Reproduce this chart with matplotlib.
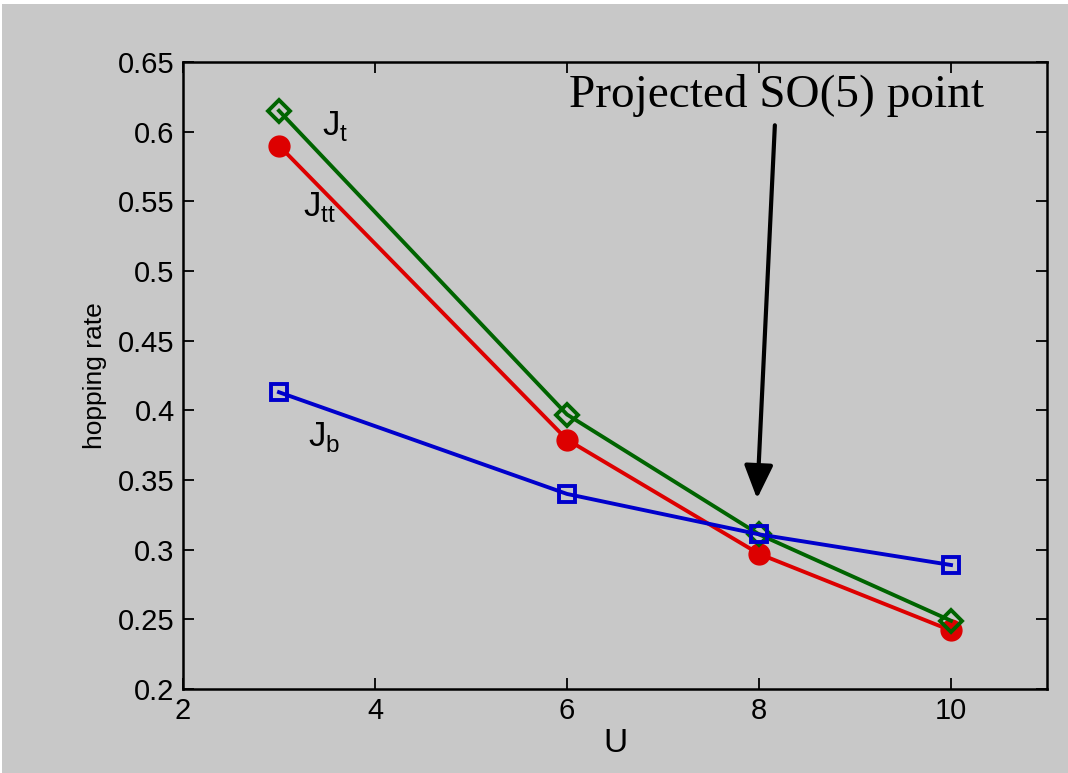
import matplotlib.pyplot as plt
from matplotlib.patches import Rectangle

# Data
U = [3, 6, 8, 10]
J_t = [0.615, 0.397, 0.311, 0.249]
J_tt = [0.590, 0.379, 0.297, 0.242]
J_b = [0.413, 0.340, 0.311, 0.289]

x_ticks = [2, 4, 6, 8, 10]
y_ticks = [0.2, 0.25, 0.3, 0.35, 0.4, 0.45, 0.5, 0.55, 0.6, 0.65]
y_ticklabels = ['0.2', '0.25', '0.3', '0.35', '0.4', '0.45', '0.5', '0.55', '0.6', '0.65']

gris = '#c8c8c8'
plt.rcParams['font.family'] = ['Liberation Sans', 'DejaVu Sans']

fig = plt.figure(figsize=(10.68, 7.73), dpi=100, facecolor=gris)
# pequeño borde blanco arriba y a la izquierda
fig.patches.append(Rectangle((0, 1 - 4 / 773), 1, 4 / 773, transform=fig.transFigure,
                             facecolor='white', edgecolor='none', zorder=-10))
fig.patches.append(Rectangle((0, 0), 2 / 1068, 1, transform=fig.transFigure,
                             facecolor='white', edgecolor='none', zorder=-10))

ax = fig.add_axes([183 / 1068, 1 - 689 / 773, (1047 - 183) / 1068, (689 - 62) / 773])
ax.set_facecolor(gris)

ax.plot(U, J_tt, '-o', color='#dd0000', lw=2.8, ms=15, mfc='#dd0000', mec='#dd0000', zorder=3)
ax.plot(U, J_t, '-D', color='#006400', lw=2.8, ms=11, mfc='none', mew=2.8, mec='#006400', zorder=4)
ax.plot(U, J_b, '-s', color='#0000cc', lw=2.8, ms=12, mfc='none', mew=2.8, mec='#0000cc', zorder=5)

ax.set_xlim(2, 11)
ax.set_ylim(0.2, 0.65)
ax.set_xticks(x_ticks)
ax.set_yticks(y_ticks)
ax.set_yticklabels(y_ticklabels)
ax.tick_params(direction='in', top=True, right=True, length=8, width=1.3, labelsize=21, pad=6)
for s in ax.spines.values():
    s.set_linewidth(1.8)

ax.set_xlabel('U', fontsize=24, labelpad=2)
ax.set_ylabel('hopping rate', fontsize=19, labelpad=8)

# Etiquetas de las curvas
ax.text(3.58, 0.604, r'J$_\mathregular{t}$', fontsize=25, ha='center', va='center')
ax.text(3.42, 0.546, r'J$_\mathregular{tt}$', fontsize=25, ha='center', va='center')
ax.text(3.47, 0.381, r'J$_\mathregular{b}$', fontsize=25, ha='center', va='center')

ax.annotate('Projected SO(5) point', xy=(7.98, 0.3366), xytext=(8.18, 0.626),
            fontsize=34, family='Liberation Serif', ha='center', va='center',
            arrowprops=dict(arrowstyle='-|>,head_length=0.6,head_width=0.26', color='black',
                            lw=3, shrinkA=4, shrinkB=0))

plt.savefig('out.png', dpi=100, facecolor=fig.get_facecolor())
